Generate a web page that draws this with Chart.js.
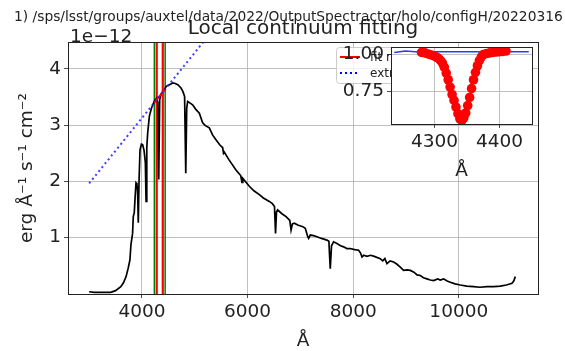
<!DOCTYPE html>
<html>
<head>
<meta charset="utf-8">
<script src="https://cdn.jsdelivr.net/npm/chart.js@4.4.0/dist/chart.umd.min.js"></script>
<style>
  body { margin: 0; background: #fff; }
  #wrap { position: relative; width: 565px; height: 351px; }
  #wrap canvas { position: absolute; left: 0; top: 0; }
</style>
</head>
<body>
<div id="wrap">
  <canvas id="main" width="565" height="351"></canvas>
  <canvas id="inset" width="565" height="351"></canvas>
</div>
<script>
// spectrum (flux in units of 1e-12 erg/A/s/cm2)
const specWave = [3000, 3100, 3200, 3300, 3410, 3500, 3600, 3650, 3700, 3740, 3773, 3792, 3823, 3836, 3855, 3870, 3888, 3905, 3918, 3931,
  3945, 3964, 3990, 4013, 4040, 4065, 4078, 4092, 4109, 4141, 4180, 4236, 4280, 4300, 4318, 4336, 4360, 4427, 4459, 4520,
  4585, 4630, 4680, 4740, 4775, 4808, 4830, 4848, 4866, 4900, 4960, 5020, 5087, 5150, 5200, 5276, 5340, 5402, 5480, 5528,
  5545, 5559, 5650, 5781, 5870, 5895, 5910, 6034, 6120, 6223, 6300, 6412, 6470, 6510, 6530, 6548, 6570, 6650, 6729, 6800,
  6824, 6850, 6887, 6950, 7045, 7093, 7140, 7156, 7188, 7250, 7314, 7400, 7503, 7540, 7566, 7590, 7629, 7693, 7760, 7819,
  7880, 7945, 8030, 8103, 8140, 8167, 8200, 8261, 8330, 8400, 8513, 8560, 8600, 8640, 8700, 8766, 8830, 8892, 8955, 9020,
  9082, 9150, 9210, 9271, 9330, 9398, 9460, 9524, 9600, 9650, 9713, 9780, 9839, 9930, 10029, 10150, 10280, 10400, 10533, 10660,
  10786, 10900, 11008, 11040, 11071];
const specFlux = [0.03, 0.02, 0.02, 0.02, 0.02, 0.05, 0.12, 0.19, 0.30, 0.45, 0.60, 0.87, 1.07, 1.37, 1.44, 1.70, 1.97, 1.95, 1.82, 1.26,
  2.00, 2.56, 2.66, 2.65, 2.55, 2.33, 1.64, 2.60, 2.86, 3.16, 3.30, 3.43, 3.48, 3.40, 2.03, 3.45, 3.55, 3.63, 3.69, 3.72,
  3.75, 3.74, 3.72, 3.66, 3.60, 3.51, 2.14, 3.30, 3.42, 3.40, 3.36, 3.28, 3.21, 3.04, 2.99, 2.95, 2.82, 2.74, 2.64, 2.60,
  2.50, 2.52, 2.38, 2.20, 2.10, 1.98, 2.05, 1.91, 1.83, 1.76, 1.70, 1.64, 1.60, 1.55, 1.07, 1.45, 1.49, 1.42, 1.37, 1.30,
  1.13, 1.24, 1.25, 1.22, 1.19, 1.16, 1.01, 0.98, 1.04, 1.03, 1.01, 0.98, 0.95, 0.93, 0.44, 0.85, 0.92, 0.89, 0.85, 0.83,
  0.80, 0.80, 0.78, 0.77, 0.72, 0.65, 0.68, 0.66, 0.68, 0.66, 0.62, 0.58, 0.62, 0.53, 0.58, 0.56, 0.52, 0.47, 0.41, 0.42,
  0.41, 0.38, 0.33, 0.32, 0.28, 0.26, 0.24, 0.23, 0.26, 0.24, 0.26, 0.22, 0.20, 0.17, 0.15, 0.13, 0.12, 0.11, 0.12, 0.12,
  0.13, 0.15, 0.18, 0.22, 0.30];

// local continuum: fitted part and its extrapolation
const fitWave = [4235, 4440];
const fitFlux = [3.40, 3.64];
const extWave = [3000, 5300];
const extFlux = [1.96, 4.64];

// vertical markers
const windowEdges = [4235, 4440];
const fitEdges = [4280, 4395];

// inset: normalised line profile
const insetWave = [4280, 4285, 4290, 4295, 4300, 4303, 4306, 4309, 4312, 4315, 4318, 4321, 4324, 4327, 4330,
  4333, 4336, 4339, 4342, 4345, 4348, 4351, 4354, 4357, 4360, 4363, 4366, 4369, 4372, 4375,
  4380, 4385, 4390, 4395, 4400, 4405, 4410];
const insetFlux = [1.015, 1.012, 1.005, 0.998, 0.99, 0.983, 0.975, 0.962, 0.945, 0.915, 0.875, 0.83, 0.78, 0.73, 0.69,
  0.645, 0.60, 0.565, 0.553, 0.57, 0.605, 0.655, 0.71, 0.77, 0.83, 0.88, 0.925, 0.96, 0.985, 1.0,
  1.008, 1.012, 1.015, 1.018, 1.02, 1.022, 1.025];
const insetContWave = [4238, 4255, 4270, 4300, 4350, 4400, 4420, 4445];
const insetContFlux = [1.015, 1.025, 1.02, 1.02, 1.02, 1.02, 1.02, 1.02];

const xTicks = [4000, 6000, 8000, 10000];
const yTicks = [1, 2, 3, 4];
const insetXTicks = [4300, 4400];
const insetYTicks = [0.75, 1.00];

const FONT = "'DejaVu Sans', sans-serif";
Chart.defaults.font.family = FONT;
Chart.defaults.color = '#222';

function pts(xs, ys) {
  return xs.map((x, i) => ({ x: x, y: ys[i] }));
}

// frame, vertical lines, legend and texts
const mainDecor = {
  id: 'mainDecor',
  beforeDatasetsDraw(chart) {
    const ctx = chart.ctx, a = chart.chartArea, xs = chart.scales.x;
    ctx.save();
    ctx.lineWidth = 1.5;
    ctx.strokeStyle = 'green';
    windowEdges.forEach(w => {
      const px = xs.getPixelForValue(w);
      ctx.beginPath(); ctx.moveTo(px, a.top); ctx.lineTo(px, a.bottom); ctx.stroke();
    });
    ctx.lineWidth = 2.2;
    ctx.strokeStyle = 'red';
    fitEdges.forEach(w => {
      const px = xs.getPixelForValue(w);
      ctx.beginPath(); ctx.moveTo(px, a.top); ctx.lineTo(px, a.bottom); ctx.stroke();
    });
    ctx.restore();
  },
  afterDraw(chart) {
    const ctx = chart.ctx, a = chart.chartArea;
    ctx.save();
    ctx.strokeStyle = '#222';
    ctx.lineWidth = 1;
    ctx.strokeRect(Math.round(a.left) + 0.5, Math.round(a.top) + 0.5,
      Math.round(a.right - a.left), Math.round(a.bottom - a.top));

    // legend (mostly hidden behind the inset)
    ctx.fillStyle = 'rgba(255,255,255,0.8)';
    ctx.strokeStyle = '#cccccc';
    ctx.beginPath();
    ctx.roundRect(336.5, 47.5, 120, 36, 3);
    ctx.fill(); ctx.stroke();
    ctx.lineWidth = 2;
    ctx.strokeStyle = 'red';
    ctx.beginPath(); ctx.moveTo(340, 57); ctx.lineTo(360, 57); ctx.stroke();
    ctx.strokeStyle = 'blue';
    ctx.setLineDash([2, 3]);
    ctx.beginPath(); ctx.moveTo(340, 73); ctx.lineTo(360, 73); ctx.stroke();
    ctx.setLineDash([]);
    ctx.fillStyle = '#222';
    ctx.font = '12px ' + FONT;
    ctx.textBaseline = 'middle';
    ctx.fillText('fit range', 370, 58);
    ctx.fillText('extrapolation', 370, 74);

    // texts
    ctx.textBaseline = 'alphabetic';
    ctx.font = '13.8px ' + FONT;
    ctx.textAlign = 'left';
    ctx.fillText('1) /sps/lsst/groups/auxtel/data/2022/OutputSpectractor/holo/configH/20220316', 14, 20.5);
    ctx.font = '20px ' + FONT;
    ctx.textAlign = 'center';
    ctx.fillText('Local continuum fitting', (a.left + a.right) / 2, 34);
    ctx.font = '18.5px ' + FONT;
    ctx.textAlign = 'left';
    ctx.fillText('1e\u221212', 70, 41.5);
    ctx.textAlign = 'center';
    ctx.fillText('\u00c5', (a.left + a.right) / 2, 346);
    ctx.translate(27, (a.top + a.bottom) / 2);
    ctx.rotate(-Math.PI / 2);
    ctx.textBaseline = 'middle';
    ctx.fillText('erg \u00c5\u207b\u00b9 s\u207b\u00b9 cm\u207b\u00b2', 0, 0);
    ctx.restore();
  }
};

new Chart(document.getElementById('main'), {
  type: 'scatter',
  data: {
    datasets: [
      { data: pts(extWave, extFlux), showLine: true, borderColor: 'rgba(30,30,255,0.85)', borderWidth: 2,
        borderDash: [2, 3], pointRadius: 0, order: 0, clip: 0 },
      { data: pts(fitWave, fitFlux), showLine: true, borderColor: 'red', borderWidth: 2,
        pointRadius: 0, order: 1 },
      { data: pts(specWave, specFlux), showLine: true, borderColor: '#000', borderWidth: 1.7,
        pointRadius: 0, order: 2 }
    ]
  },
  options: {
    responsive: false,
    animation: false,
    devicePixelRatio: 1,
    layout: { padding: { left: 0, top: 42, right: 27, bottom: 0 } },
    plugins: { legend: { display: false }, tooltip: { enabled: false } },
    scales: {
      x: {
        type: 'linear', min: 2600, max: 11500,
        afterFit: s => { s.height = 57; },
        afterBuildTicks: s => { s.ticks = xTicks.map(v => ({ value: v })); },
        ticks: { font: { size: 18.5 }, color: '#222', padding: 3, maxRotation: 0, callback: v => String(v) },
        grid: { color: '#b0b0b0', lineWidth: 0.8, tickLength: 4, tickColor: '#222' },
        border: { display: false }
      },
      y: {
        type: 'linear', min: -0.01, max: 4.48,
        afterFit: s => { s.width = 68; },
        afterBuildTicks: s => { s.ticks = yTicks.map(v => ({ value: v })); },
        ticks: { font: { size: 18.5 }, color: '#222', padding: 3, callback: v => String(v) },
        grid: { color: '#b0b0b0', lineWidth: 0.8, tickLength: 4, tickColor: '#222' },
        border: { display: false }
      }
    }
  },
  plugins: [mainDecor]
});

const insetDecor = {
  id: 'insetDecor',
  beforeDraw(chart) {
    const ctx = chart.ctx, a = chart.chartArea;
    ctx.save();
    ctx.fillStyle = '#fff';
    ctx.fillRect(a.left, a.top, a.right - a.left, a.bottom - a.top);
    ctx.restore();
  },
  afterDraw(chart) {
    const ctx = chart.ctx, a = chart.chartArea;
    ctx.save();
    ctx.strokeStyle = '#222';
    ctx.lineWidth = 1;
    ctx.strokeRect(Math.round(a.left) + 0.5, Math.round(a.top) + 0.5,
      Math.round(a.right - a.left), Math.round(a.bottom - a.top));
    ctx.fillStyle = '#222';
    ctx.font = '18.5px ' + FONT;
    ctx.textAlign = 'center';
    ctx.fillText('\u00c5', (a.left + a.right) / 2, 176);
    ctx.restore();
  }
};

new Chart(document.getElementById('inset'), {
  type: 'scatter',
  data: {
    datasets: [
      { data: pts(insetWave, insetFlux), showLine: false, pointRadius: 4.8, pointBackgroundColor: 'red',
        pointBorderColor: 'red', pointBorderWidth: 0, order: 0 },
      { data: pts(insetContWave, insetContFlux), showLine: true, borderColor: '#2040ff', borderWidth: 1.5,
        pointRadius: 0, order: 1 }
    ]
  },
  options: {
    responsive: false,
    animation: false,
    devicePixelRatio: 1,
    layout: { padding: { left: 0, top: 47, right: 33, bottom: 187 } },
    plugins: { legend: { display: false }, tooltip: { enabled: false } },
    scales: {
      x: {
        type: 'linear', min: 4233, max: 4450,
        afterFit: s => { s.height = 40; },
        afterBuildTicks: s => { s.ticks = insetXTicks.map(v => ({ value: v })); },
        ticks: { font: { size: 18.5 }, color: '#222', padding: 3, maxRotation: 0, callback: v => String(v) },
        grid: { color: '#b0b0b0', lineWidth: 0.8, tickLength: 4, tickColor: '#222' },
        border: { display: false }
      },
      y: {
        type: 'linear', min: 0.53, max: 1.052,
        afterFit: s => { s.width = 391; },
        afterBuildTicks: s => { s.ticks = insetYTicks.map(v => ({ value: v })); },
        ticks: { font: { size: 18.5 }, color: '#222', padding: 3, callback: v => v.toFixed(2) },
        grid: { color: '#b0b0b0', lineWidth: 0.8, tickLength: 4, tickColor: '#222' },
        border: { display: false }
      }
    }
  },
  plugins: [insetDecor]
});
</script>
</body>
</html>
